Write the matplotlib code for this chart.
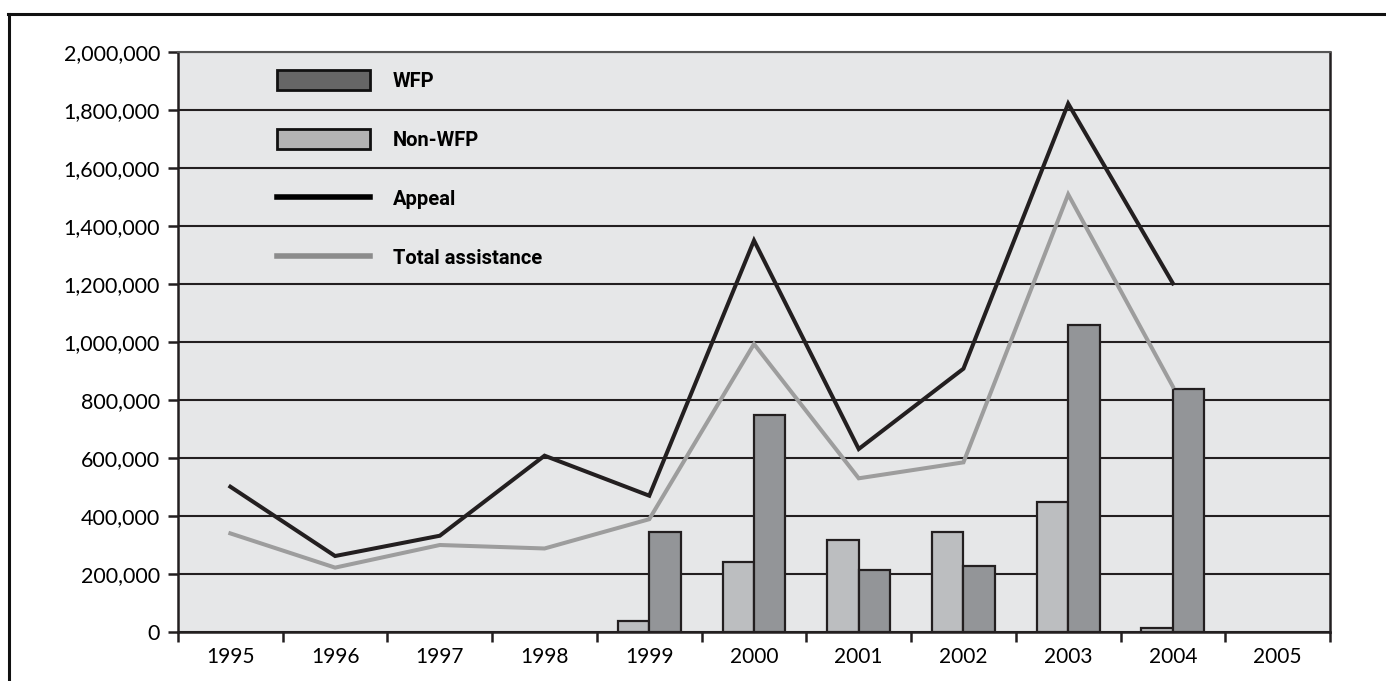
import matplotlib
matplotlib.use("Agg")
import matplotlib.pyplot as plt
from matplotlib.patches import Patch
from matplotlib.lines import Line2D
from matplotlib.ticker import FuncFormatter
import numpy as np

years = ["1995", "1996", "1997", "1998", "1999", "2000",
         "2001", "2002", "2003", "2004", "2005"]

# food aid volumes by year (None = no figure)
non_wfp = [0, 0, 0, 0, 39000, 242000, 318000, 346000, 449000, 14000, 0]
wfp = [0, 0, 0, 0, 346000, 750000, 213000, 228000, 1057000, 839000, 0]
appeal = [501000, 262000, 332000, 608000, 470000, 1350000,
          631000, 908000, 1822000, 1202000, None]
total_assistance = [340000, 222000, 300000, 288000, 389000, 993000,
                    530000, 585000, 1509000, 846000, None]

DARK = "#231f20"
BG = "#e6e7e8"

plt.rcParams["font.family"] = ["Lato", "DejaVu Sans"]

fig = plt.figure(figsize=(13.86, 6.81), dpi=100)
ax = fig.add_axes([178 / 1386, 1 - 632 / 681, 1152 / 1386, 580 / 681])
ax.set_facecolor(BG)

x = np.arange(len(years))
w = 0.3
nw = [v if v else np.nan for v in non_wfp]
wf = [v if v else np.nan for v in wfp]
ax.bar(x - w / 2, nw, w, color="#bcbec0", edgecolor=DARK, linewidth=1.6, zorder=3)
ax.bar(x + w / 2, wf, w, color="#939598", edgecolor=DARK, linewidth=1.6, zorder=3)

ap = np.array([np.nan if v is None else v for v in appeal], dtype=float)
ta = np.array([np.nan if v is None else v for v in total_assistance], dtype=float)
ax.plot(x, ap, color=DARK, lw=2.9, zorder=4, solid_joinstyle="miter")
ax.plot(x, ta, color="#9d9d9d", lw=2.9, zorder=4, solid_joinstyle="miter")

ax.set_xlim(-0.5, len(years) - 0.5)
ax.set_ylim(0, 2000000)
ax.set_yticks(np.arange(0, 2000001, 200000))
ax.yaxis.set_major_formatter(FuncFormatter(lambda v, p: f"{int(v):,}"))
ax.yaxis.grid(True, color=DARK, lw=1.5, zorder=1)
ax.set_axisbelow(True)

# ticks sit on category boundaries, labels at centres
ax.set_xticks(np.arange(-0.5, len(years)), minor=False)
ax.set_xticklabels([])
ax.set_xticks(x, minor=True)
ax.set_xticklabels(years, minor=True)
ax.tick_params(axis="x", which="major", length=7, width=1.8, color=DARK, direction="out")
ax.tick_params(axis="x", which="minor", length=0, pad=11, labelsize=15)
ax.tick_params(axis="y", length=7, width=1.8, color=DARK, labelsize=15.5, pad=6)

for side in ["left", "bottom", "right"]:
    ax.spines[side].set_color(DARK)
    ax.spines[side].set_linewidth(1.8)
ax.spines["top"].set_color("#555555")
ax.spines["top"].set_linewidth(1.5)

handles = [
    Patch(facecolor="#666666", edgecolor="#111111", linewidth=2),
    Patch(facecolor="#b3b3b3", edgecolor="#111111", linewidth=2),
    Line2D([], [], color="#000000", lw=4),
    Line2D([], [], color="#8c8c8c", lw=4),
]
labels = ["WFP", "Non-WFP", "Appeal", "Total assistance"]
leg = ax.legend(handles, labels, loc="upper left", bbox_to_anchor=(0.086, 0.969),
                frameon=False, handlelength=4.6, handleheight=1.15,
                labelspacing=1.9, handletextpad=1.15, borderpad=0, borderaxespad=0,
                prop={"family": ["Roboto", "DejaVu Sans"],
                      "weight": "bold", "size": 14.5})

# outer frame lines along top and left
fig.add_artist(Line2D([9 / 1386, 9 / 1386], [0, 1 - 14 / 681], color="#111111", lw=2.2))
fig.add_artist(Line2D([8 / 1386, 1], [1 - 14 / 681, 1 - 14 / 681], color="#111111", lw=2.2))

fig.savefig("out.png", dpi=100)
